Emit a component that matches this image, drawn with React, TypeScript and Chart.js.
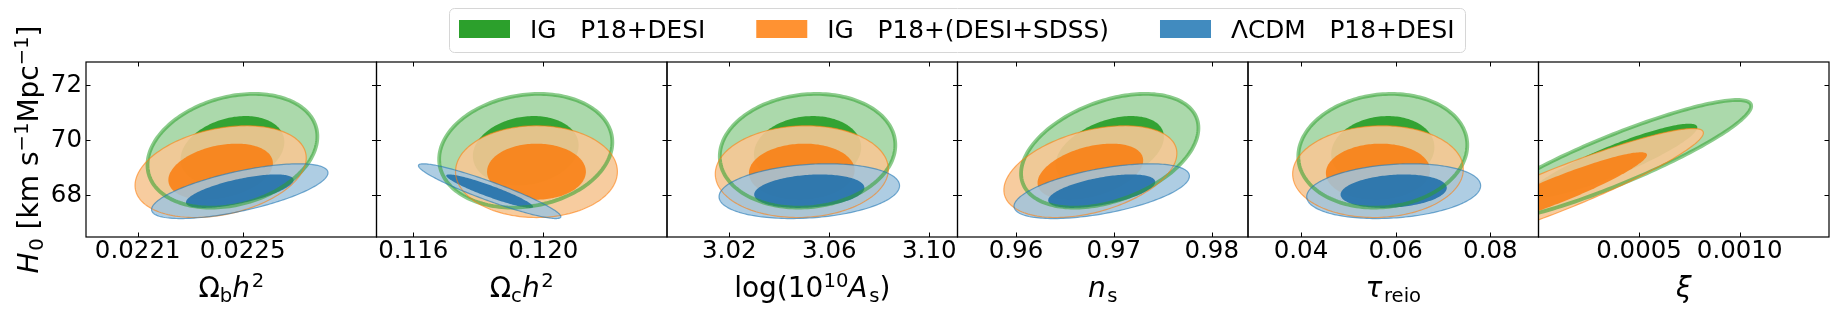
import React, { useEffect, useRef } from 'react';
import { Chart, registerables } from 'chart.js';

Chart.register(...registerables);

// ---------------- data ----------------
const X_MIN = [0.021903, 0.114868, 2.99508, 0.954021, 0.0288, 0.0];
const X_MAX = [0.02301, 0.123806, 3.11128, 0.98371, 0.09018, 0.001444];
const X_TICKS = [
  [0.0221, 0.0225],
  [0.116, 0.12],
  [3.02, 3.06, 3.1],
  [0.96, 0.97, 0.98],
  [0.04, 0.06, 0.08],
  [0.0005, 0.001],
];
const X_TICK_LABELS = [
  ['0.0221', '0.0225'],
  ['0.116', '0.120'],
  ['3.02', '3.06', '3.10'],
  ['0.96', '0.97', '0.98'],
  ['0.04', '0.06', '0.08'],
  ['0.0005', '0.0010'],
];
const Y_MIN = 66.484;
const Y_MAX = 72.847;
const Y_TICKS = [68, 70, 72];

const SERIES_NAMES = ['IG   P18+DESI', 'IG   P18+(DESI+SDSS)', 'ΛCDM   P18+DESI'];

// Gaussian approximations of each 2D posterior, one entry per panel
// (parameter mean / sigma, H0 mean / sigma, correlation)
const IG_DESI_X_MEAN = [0.022461, 0.11946, 3.0513, 0.96958, 0.05728, 0.00037];
const IG_DESI_X_SIGMA = [0.00013, 0.00107, 0.0141, 0.00364, 0.00717, 0.000276];
const IG_DESI_H0_MEAN = [69.62, 69.62, 69.62, 69.62, 69.62, 69.25];
const IG_DESI_H0_SIGMA = [0.83, 0.83, 0.83, 0.83, 0.83, 0.89];
const IG_DESI_CORR = [0.25, 0.15, 0.1, 0.4, 0.1, 0.9];

const IG_SDSS_X_MEAN = [0.022416, 0.11979, 3.049, 0.9676, 0.05626, 0.0001];
const IG_SDSS_X_SIGMA = [0.000131, 0.001, 0.0139, 0.00355, 0.00724, 0.000289];
const IG_SDSS_H0_MEAN = [68.86, 68.86, 68.86, 68.86, 68.86, 68.21];
const IG_SDSS_H0_SIGMA = [0.67, 0.67, 0.67, 0.67, 0.67, 0.891];
const IG_SDSS_CORR = [0.3, 0.0, 0.05, 0.4, 0.05, 0.928];

const LCDM_X_MEAN = [0.022489, 0.11835, 3.052, 0.96876, 0.05958, null];
const LCDM_X_SIGMA = [0.000135, 0.00088, 0.0145, 0.0036, 0.00738, null];
const LCDM_H0_MEAN = [68.15, 68.15, 68.15, 68.15, 68.15, null];
const LCDM_H0_SIGMA = [0.4, 0.4, 0.4, 0.4, 0.4, null];
const LCDM_CORR = [0.67, -0.93, 0.2, 0.55, 0.2, null];

// 68% and 95% contour radii for a 2D Gaussian
const K_INNER = 1.52;
const K_OUTER = 2.49;

type Part = { t: string; it?: boolean; sub?: boolean; sup?: boolean };

const X_TITLES: Part[][] = [
  [{ t: 'Ω' }, { t: 'b', sub: true }, { t: 'h', it: true }, { t: '2', sup: true }],
  [{ t: 'Ω' }, { t: 'c', sub: true }, { t: 'h', it: true }, { t: '2', sup: true }],
  [{ t: 'log(10' }, { t: '10', sup: true }, { t: 'A', it: true }, { t: 's', sub: true }, { t: ')' }],
  [{ t: 'n', it: true }, { t: 's', sub: true }],
  [{ t: 'τ', it: true }, { t: 'reio', sub: true }],
  [{ t: 'ξ', it: true }],
];
const Y_TITLE: Part[] = [
  { t: 'H', it: true },
  { t: '0', sub: true },
  { t: ' [km s' },
  { t: '−1', sup: true },
  { t: 'Mpc' },
  { t: '−1', sup: true },
  { t: ']' },
];

// ---------------- styles ----------------
const FONT = '"DejaVu Sans"';
const TICK_FS = 24.5;
const TITLE_FS = 28;
const LEGEND_FS = 24.8;
const STYLES = [
  { outer: 'rgb(171,217,171)', inner: 'rgba(44,160,44,0.95)', line: 'rgba(44,160,44,0.55)', lw: 3.8, swatch: 'rgb(44,160,44)' },
  { outer: 'rgba(246,198,149,0.9)', inner: 'rgba(250,125,14,0.85)', line: 'rgba(255,127,14,0.6)', lw: 1.2, swatch: 'rgb(255,146,50)' },
  { outer: 'rgba(160,196,222,0.85)', inner: 'rgba(31,110,170,0.88)', line: 'rgba(31,119,180,0.6)', lw: 1.2, swatch: 'rgb(65,139,191)' },
];

const SERIES = [
  { xm: IG_DESI_X_MEAN, xs: IG_DESI_X_SIGMA, ym: IG_DESI_H0_MEAN, ys: IG_DESI_H0_SIGMA, r: IG_DESI_CORR },
  { xm: IG_SDSS_X_MEAN, xs: IG_SDSS_X_SIGMA, ym: IG_SDSS_H0_MEAN, ys: IG_SDSS_H0_SIGMA, r: IG_SDSS_CORR },
  { xm: LCDM_X_MEAN, xs: LCDM_X_SIGMA, ym: LCDM_H0_MEAN, ys: LCDM_H0_SIGMA, r: LCDM_CORR },
];

function partFont(p: Part, size: number) {
  const s = p.sub || p.sup ? size * 0.7 : size;
  return `${p.it ? 'italic ' : ''}${s}px ${FONT}`;
}

function drawRich(ctx: CanvasRenderingContext2D, parts: Part[], x: number, y: number, size: number) {
  const widths = parts.map((p, i) => {
    ctx.font = partFont(p, size);
    let w = ctx.measureText(p.t).width;
    if (p.it && parts[i + 1] && (parts[i + 1].sup || parts[i + 1].sub)) w += size * 0.06;
    return w;
  });
  const total = widths.reduce((a, b) => a + b, 0);
  let cx = x - total / 2;
  ctx.textAlign = 'left';
  ctx.textBaseline = 'alphabetic';
  parts.forEach((p, i) => {
    ctx.font = partFont(p, size);
    const dy = p.sub ? size * 0.18 : p.sup ? -size * 0.36 : 0;
    ctx.fillText(p.t, cx, y + dy);
    cx += widths[i];
  });
}

function ellipsePath(ctx: CanvasRenderingContext2D, xsc: any, ysc: any, mx: number, sx: number, my: number, sy: number, rho: number, k: number) {
  const N = 180;
  const q = Math.sqrt(1 - rho * rho);
  ctx.beginPath();
  for (let i = 0; i <= N; i++) {
    const t = (2 * Math.PI * i) / N;
    const vx = mx + k * sx * Math.cos(t);
    const vy = my + k * sy * (rho * Math.cos(t) + q * Math.sin(t));
    const px = xsc.getPixelForValue(vx);
    const py = ysc.getPixelForValue(vy);
    if (i === 0) ctx.moveTo(px, py);
    else ctx.lineTo(px, py);
  }
  ctx.closePath();
}

function contour(ctx: CanvasRenderingContext2D, xsc: any, ysc: any, s: any, p: number, k: number) {
  ellipsePath(ctx, xsc, ysc, s.xm[p], s.xs[p], s.ym[p], s.ys[p], s.r[p], k);
}

const panelPlugin = {
  id: 'panels',
  afterDatasetsDraw(chart: any) {
    const ctx: CanvasRenderingContext2D = chart.ctx;
    const ysc = chart.scales.y;
    const top = chart.chartArea.top;
    const bottom = chart.chartArea.bottom;
    for (let p = 0; p < X_MIN.length; p++) {
      const xsc = chart.scales['x' + p];
      ctx.save();
      ctx.beginPath();
      ctx.rect(xsc.left, top, xsc.right - xsc.left, bottom - top);
      ctx.clip();
      SERIES.forEach((s, si) => {
        if (s.xm[p] === null) return;
        contour(ctx, xsc, ysc, s, p, K_OUTER);
        ctx.fillStyle = STYLES[si].outer;
        ctx.fill();
        contour(ctx, xsc, ysc, s, p, K_INNER);
        ctx.fillStyle = STYLES[si].inner;
        ctx.fill();
      });
      SERIES.forEach((s, si) => {
        if (s.xm[p] === null) return;
        contour(ctx, xsc, ysc, s, p, K_OUTER);
        ctx.strokeStyle = STYLES[si].line;
        ctx.lineWidth = STYLES[si].lw;
        ctx.stroke();
      });
      ctx.restore();

      // frame + inward ticks
      ctx.save();
      ctx.strokeStyle = '#000';
      ctx.lineWidth = 1.2;
      ctx.strokeRect(xsc.left, top, xsc.right - xsc.left, bottom - top);
      ctx.lineWidth = 1;
      ctx.beginPath();
      X_TICKS[p].forEach((v) => {
        const px = Math.round(xsc.getPixelForValue(v)) + 0.5;
        ctx.moveTo(px, bottom);
        ctx.lineTo(px, bottom - 4.5);
        ctx.moveTo(px, top);
        ctx.lineTo(px, top + 4.5);
      });
      Y_TICKS.forEach((v) => {
        const py = Math.round(ysc.getPixelForValue(v)) + 0.5;
        ctx.moveTo(xsc.left, py);
        ctx.lineTo(xsc.left + 4.5, py);
        ctx.moveTo(xsc.right, py);
        ctx.lineTo(xsc.right - 4.5, py);
      });
      ctx.stroke();
      ctx.restore();

      ctx.save();
      ctx.fillStyle = '#000';
      drawRich(ctx, X_TITLES[p], (xsc.left + xsc.right) / 2, 297, TITLE_FS);
      ctx.restore();
    }

    // y title
    ctx.save();
    ctx.fillStyle = '#000';
    ctx.translate(38, (top + bottom) / 2);
    ctx.rotate(-Math.PI / 2);
    drawRich(ctx, Y_TITLE, 0, 0, TITLE_FS);
    ctx.restore();

    // legend
    ctx.save();
    const bx = 449.5, by = 8.5, bw = 1016, bh = 44, r = 5;
    ctx.beginPath();
    ctx.moveTo(bx + r, by);
    ctx.arcTo(bx + bw, by, bx + bw, by + bh, r);
    ctx.arcTo(bx + bw, by + bh, bx, by + bh, r);
    ctx.arcTo(bx, by + bh, bx, by, r);
    ctx.arcTo(bx, by, bx + bw, by, r);
    ctx.closePath();
    ctx.fillStyle = 'rgba(255,255,255,0.8)';
    ctx.fill();
    ctx.strokeStyle = '#d6d6d6';
    ctx.lineWidth = 1;
    ctx.stroke();
    ctx.font = `${LEGEND_FS}px ${FONT}`;
    ctx.textAlign = 'left';
    ctx.textBaseline = 'alphabetic';
    let lx = 459;
    SERIES_NAMES.forEach((name, i) => {
      ctx.fillStyle = STYLES[i].swatch;
      ctx.fillRect(lx, 20, 51, 18);
      ctx.fillStyle = '#000';
      ctx.fillText(name, lx + 71, 38);
      lx += 71 + ctx.measureText(name).width + 51;
    });
    ctx.restore();
  },
};

export default function App() {
  const ref = useRef<HTMLCanvasElement>(null);
  useEffect(() => {
    const font = { family: FONT, size: TICK_FS };
    const scales: any = {
      y: {
        type: 'linear',
        position: 'left',
        min: Y_MIN,
        max: Y_MAX,
        afterBuildTicks: (s: any) => {
          s.ticks = Y_TICKS.map((v) => ({ value: v }));
        },
        ticks: { font, color: '#000', padding: 4, callback: (v: any) => String(v) },
        grid: { display: false, drawTicks: false },
        border: { display: false },
        afterFit: (s: any) => {
          s.width = 40;
          s.paddingTop = 0;
          s.paddingBottom = 0;
        },
      },
    };
    X_MIN.forEach((mn, i) => {
      scales['x' + i] = {
        type: 'linear',
        position: 'bottom',
        axis: 'x',
        stack: 'panels',
        stackWeight: 1,
        min: mn,
        max: X_MAX[i],
        afterBuildTicks: (s: any) => {
          s.ticks = X_TICKS[i].map((v) => ({ value: v }));
        },
        ticks: {
          font,
          color: '#000',
          padding: 0,
          autoSkip: false,
          maxRotation: 0,
          minRotation: 0,
          callback: (_v: any, idx: number) => X_TICK_LABELS[i][idx],
        },
        grid: { display: false, drawTicks: false },
        border: { display: false },
        afterFit: (s: any) => {
          s.height = 70;
          s.paddingLeft = 0;
          s.paddingRight = 0;
        },
      };
    });
    const chart = new Chart(ref.current as HTMLCanvasElement, {
      type: 'scatter',
      data: { datasets: [] },
      options: {
        responsive: false,
        animation: false,
        devicePixelRatio: 1,
        layout: { autoPadding: false, padding: { left: 46, top: 62, right: 8, bottom: 8 } },
        plugins: { legend: { display: false }, tooltip: { enabled: false }, title: { display: false } },
        scales,
      } as any,
      plugins: [panelPlugin],
    });
    return () => chart.destroy();
  }, []);
  return (
    <div style={{ position: 'fixed', left: 0, top: 0, width: 1837, height: 315, background: '#fff' }}>
      <canvas ref={ref} width={1837} height={315} style={{ width: 1837, height: 315, display: 'block' }} />
    </div>
  );
}
